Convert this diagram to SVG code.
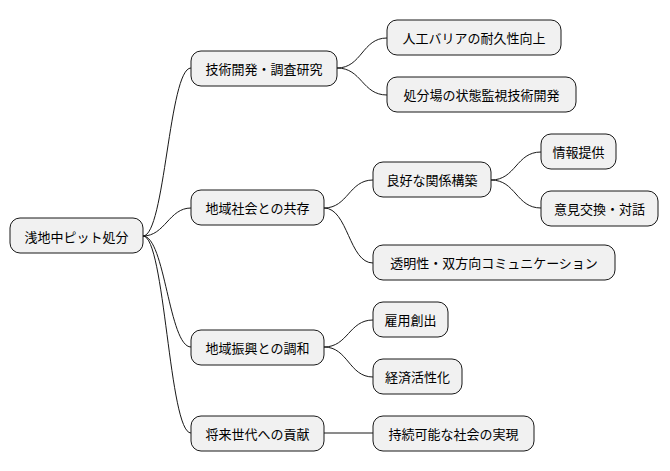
<svg xmlns="http://www.w3.org/2000/svg" width="670" height="471" viewBox="0 0 670 471">
<style>
.n rect{fill:#f1f1f1;stroke:#181818;stroke-width:1}
.n text{font-family:"Noto Sans CJK JP",sans-serif;font-size:13px;fill:#000;dominant-baseline:central}
#c path{fill:none;stroke:#181818;stroke-width:1}
</style>
<rect width="670" height="471" fill="#fff"/>
<g id="c">
<path d="M143 236 C165 236,169 68,191 68"/>
<path d="M143 236 C165 236,169 208,191 208"/>
<path d="M143 236 C165 236,169 347,191 347"/>
<path d="M143 236 C165 236,169 433,191 433"/>
<path d="M337 68 C362 68,362 38,387 38"/>
<path d="M337 68 C362 68,362 95,387 95"/>
<path d="M324 208 C348 208,349 180,373 180"/>
<path d="M324 208 C348 208,349 263,373 263"/>
<path d="M324 347 C348 347,349 320,373 320"/>
<path d="M324 347 C348 347,349 377,373 377"/>
<path d="M324 433 L373 433"/>
<path d="M491 180 C516 180,516 152,541 152"/>
<path d="M491 180 C516 180,516 208,541 208"/>
</g>
<g id="root" class="n"><rect x="10" y="218" width="133" height="35" rx="10"/><text x="76.5" y="236" text-anchor="middle">浅地中ピット処分</text></g>
<g id="n1" class="n"><rect x="191" y="51" width="146" height="35" rx="10"/><text x="264" y="68.5" text-anchor="middle">技術開発・調査研究</text></g>
<g id="n2" class="n"><rect x="191" y="190" width="133" height="35" rx="10"/><text x="257.5" y="207.5" text-anchor="middle">地域社会との共存</text></g>
<g id="n3" class="n"><rect x="191" y="330" width="133" height="35" rx="10"/><text x="257.5" y="347.5" text-anchor="middle">地域振興との調和</text></g>
<g id="n4" class="n"><rect x="191" y="416" width="133" height="35" rx="10"/><text x="257.5" y="433.5" text-anchor="middle">将来世代への貢献</text></g>
<g id="n11" class="n"><rect x="387" y="20" width="174" height="35" rx="10"/><text x="474" y="37.5" text-anchor="middle">人工バリアの耐久性向上</text></g>
<g id="n12" class="n"><rect x="387" y="77" width="189" height="35" rx="10"/><text x="481.5" y="94.5" text-anchor="middle">処分場の状態監視技術開発</text></g>
<g id="n21" class="n"><rect x="373" y="162" width="118" height="35" rx="10"/><text x="432" y="179.5" text-anchor="middle">良好な関係構築</text></g>
<g id="n22" class="n"><rect x="373" y="245" width="242" height="35" rx="10"/><text x="494" y="262.5" text-anchor="middle">透明性・双方向コミュニケーション</text></g>
<g id="n31" class="n"><rect x="373" y="302" width="75" height="35" rx="10"/><text x="410.5" y="319.5" text-anchor="middle">雇用創出</text></g>
<g id="n32" class="n"><rect x="373" y="359" width="89" height="35" rx="10"/><text x="417.5" y="376.5" text-anchor="middle">経済活性化</text></g>
<g id="n41" class="n"><rect x="373" y="416" width="161" height="35" rx="10"/><text x="453.5" y="433.5" text-anchor="middle">持続可能な社会の実現</text></g>
<g id="n211" class="n"><rect x="541" y="134" width="75" height="35" rx="10"/><text x="578.5" y="151.5" text-anchor="middle">情報提供</text></g>
<g id="n212" class="n"><rect x="541" y="191" width="117" height="35" rx="10"/><text x="599.5" y="208.5" text-anchor="middle">意見交換・対話</text></g>
</svg>
